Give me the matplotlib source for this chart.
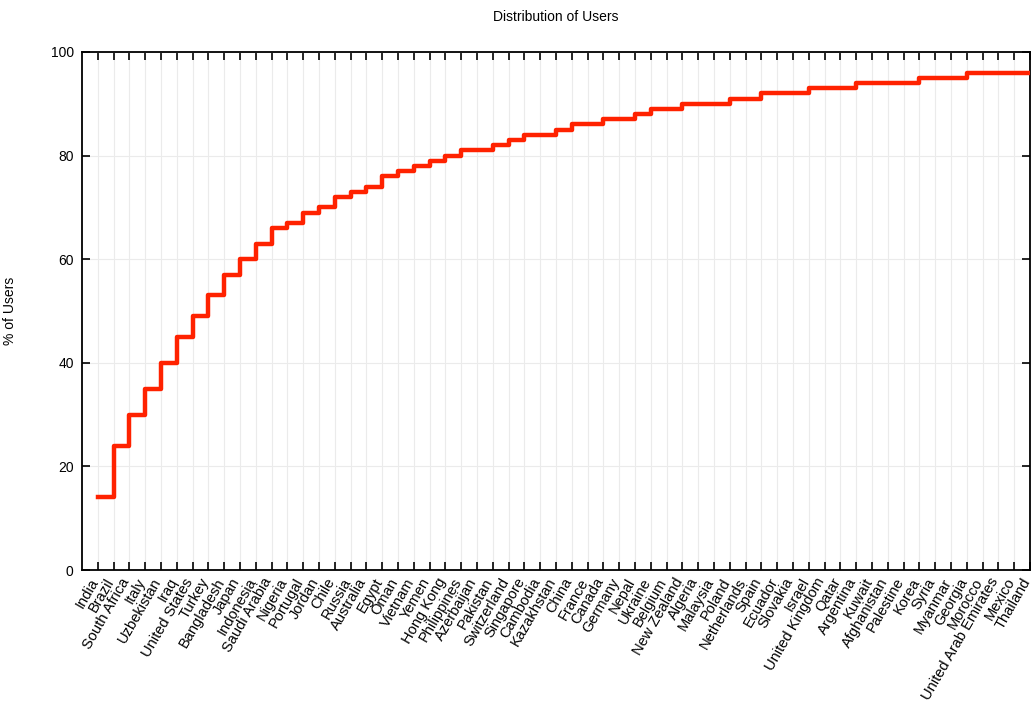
import matplotlib
matplotlib.use("Agg")
import matplotlib.pyplot as plt
import matplotlib.transforms as mtransforms
import numpy as np

plt.rcParams['font.family'] = ['Liberation Sans', 'DejaVu Sans']

countries = ["India", "Brazil", "South Africa", "Italy", "Uzbekistan", "Iraq",
             "United States", "Turkey", "Bangladesh", "Japan", "Indonesia",
             "Saudi Arabia", "Nigeria", "Portugal", "Jordan", "Chile", "Russia",
             "Australia", "Egypt", "Oman", "Vietnam", "Yemen", "Hong Kong",
             "Philippines", "Azerbaijan", "Pakistan", "Switzerland", "Singapore",
             "Cambodia", "Kazakhstan", "China", "France", "Canada", "Germany",
             "Nepal", "Ukraine", "Belgium", "New Zealand", "Algeria", "Malaysia",
             "Poland", "Netherlands", "Spain", "Ecuador", "Slovakia", "Israel",
             "United Kingdom", "Qatar", "Argentina", "Kuwait", "Afghanistan",
             "Palestine", "Korea", "Syria", "Myanmar", "Georgia", "Morocco",
             "United Arab Emirates", "Mexico", "Thailand"]

# cumulative % of users
cum_pct = [14, 24, 30, 35, 40, 45, 49, 53, 57, 60, 63, 66, 67, 69, 70, 72, 73,
           74, 76, 77, 78, 79, 80, 81, 81, 82, 83, 84, 84, 85, 86, 86, 87, 87,
           88, 89, 89, 90, 90, 90, 91, 91, 92, 92, 92, 93, 93, 93, 94, 94, 94,
           94, 95, 95, 95, 96, 96, 96, 96, 96]

yticks = [0, 20, 40, 60, 80, 100]

fig = plt.figure(figsize=(10.31, 7.11), dpi=100)
ax = fig.add_axes([0.0795, 0.1983, 0.9195, 0.7286])

x = np.arange(1, len(countries) + 1)
ax.step(x, cum_pct, where='post', color='#ff2200', linewidth=3.2, zorder=3)

ax.set_xlim(0, len(countries))
ax.set_ylim(0, 100)
ax.set_xticks(x)
ax.set_xticklabels(countries, rotation=60, ha='right', va='top',
                   rotation_mode='anchor', fontsize=10.5)
ax.set_yticks(yticks)
ax.set_yticklabels([str(v) for v in yticks], fontsize=10)

ax.tick_params(direction='in', length=6, width=1.2, top=True, right=True,
               labeltop=False, labelright=False)
ax.tick_params(axis='x', pad=4)
ax.tick_params(axis='y', pad=6)

# nudge the rotated labels left so they end at their tick
shift = mtransforms.ScaledTranslation(-0.09, 0, fig.dpi_scale_trans)
for lab in ax.get_xticklabels():
    lab.set_transform(lab.get_transform() + shift)

ax.grid(True, color='#ebebeb', linewidth=0.8, zorder=0)
for s in ax.spines.values():
    s.set_linewidth(1.3)

ax.set_title("Distribution of Users", fontsize=10, pad=22)
ax.set_ylabel("% of Users", fontsize=10, labelpad=24)

fig.savefig("out.png", dpi=100)
